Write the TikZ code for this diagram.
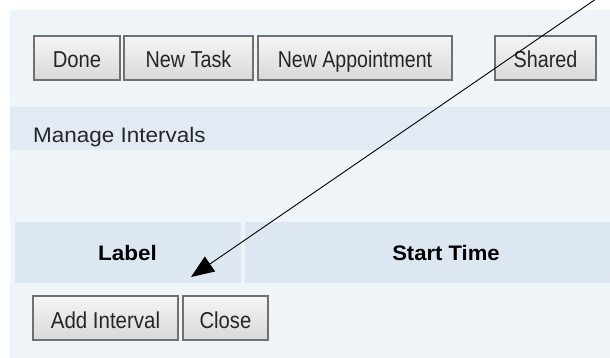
\documentclass[tikz,border=0pt]{standalone}
\usepackage{fontspec}
\setmainfont{Liberation Sans}
\usetikzlibrary{arrows.meta,shadings}
\definecolor{panel}{HTML}{EFF4F8}
\definecolor{band}{HTML}{E2EBF3}
\definecolor{hdr}{HTML}{DCE7F1}
\definecolor{btnborder}{HTML}{707070}
\tikzset{
  btn/.style={draw=btnborder, line width=1.3pt, top color=gray!8, bottom color=gray!30,
    inner sep=0pt, text height=21pt, text depth=1pt,
    font=\fontsize{23}{23}\selectfont, text=black!85},
  plain/.style={inner sep=0pt, text=black!85},
  hdrtext/.style={inner sep=0pt, font=\fontsize{21}{21}\selectfont\bfseries, text=black},
  pointer/.style={line width=0.9pt, -{Triangle[length=23pt,width=18pt]}}
}
\begin{document}
\begin{tikzpicture}[x=1pt,y=-1pt]
\useasboundingbox (0,0) rectangle (610,358);
\clip (0,0) rectangle (610,358);
% panel background
\fill[panel] (10,10) rectangle (610,358);
% manage band
\fill[band] (10,107) rectangle (610,150);
% header bands
\fill[hdr] (15,222) rectangle (241,283);
\fill[hdr] (245,222) rectangle (610,283);
% top buttons
\node[btn, minimum width=86pt, minimum height=44pt] (done) at (77,58) {\scalebox{0.88}[1]{Done}};
\node[btn, minimum width=129pt, minimum height=44pt] (newtask) at (188.5,58) {\scalebox{0.86}[1]{New Task}};
\node[btn, minimum width=194pt, minimum height=44pt] (newapp) at (355,58) {\scalebox{0.85}[1]{New Appointment}};
\node[btn, minimum width=101pt, minimum height=44pt] (shared) at (545.5,58) {\scalebox{0.86}[1]{Shared}};
% manage intervals label
\node[plain, anchor=base west, font=\fontsize{21}{21}\selectfont] (manage) at (33,143) {\scalebox{1.07}[1]{Manage Intervals}};
% header texts
\node[hdrtext, anchor=base] (label) at (127.5,260) {\scalebox{1.07}[1]{Label}};
\node[hdrtext, anchor=base] (start) at (446,260) {\scalebox{1.05}[1]{Start Time}};
% bottom buttons
\node[btn, minimum width=145pt, minimum height=44pt] (add) at (105.5,318) {\scalebox{0.89}[1]{Add Interval}};
\node[btn, minimum width=85pt, minimum height=44pt] (close) at (225.5,318) {\scalebox{0.88}[1]{Close}};
% arrow
\coordinate (from) at (596,-1);
\coordinate (tip) at (191,277);
\draw[pointer] (from) -- (tip);
\end{tikzpicture}
\end{document}
